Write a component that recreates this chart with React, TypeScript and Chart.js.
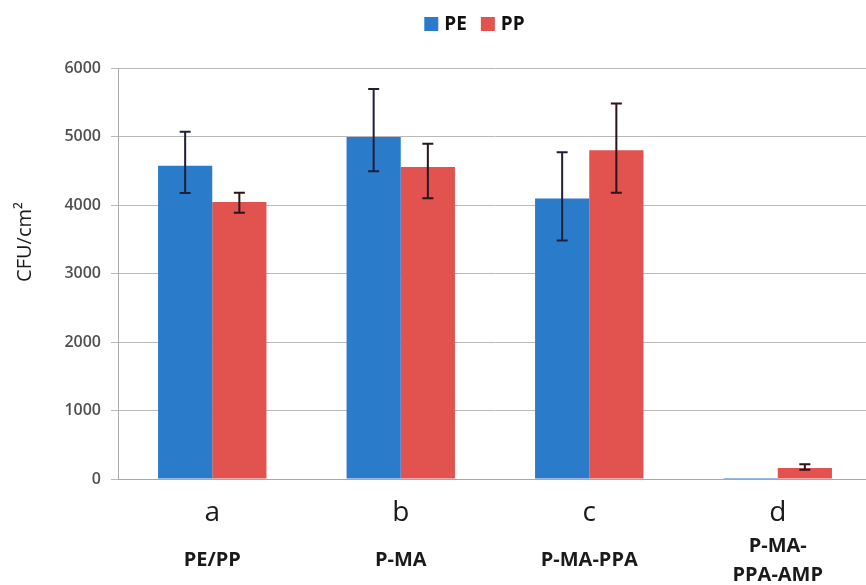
import React, { useEffect, useRef } from "react";
import { Chart, registerables } from "chart.js";

Chart.register(...registerables);

const categories = ["a", "b", "c", "d"];
const subLabels: string[][] = [["PE/PP"], ["P-MA"], ["P-MA-PPA"], ["P-MA-", "PPA-AMP"]];
const seriesNames = ["PE", "PP"];
const peValues = [4580, 5000, 4100, 15];
const ppValues = [4050, 4560, 4805, 160];
const peErrUp = [495, 700, 675, 0];
const peErrDown = [400, 500, 615, 0];
const ppErrUp = [135, 340, 685, 55];
const ppErrDown = [160, 455, 620, 25];
const yTicks = [0, 1000, 2000, 3000, 4000, 5000, 6000];
const yTitle = "CFU/cm²";

const BLUE = "#2b7bcb";
const RED = "#e2524f";
const FONT = "'Open Sans', 'DejaVu Sans', sans-serif";

export default function App() {
  const ref = useRef<HTMLCanvasElement | null>(null);

  useEffect(() => {
    const canvas = ref.current;
    if (!canvas) return;
    const errs = [
      { up: peErrUp, down: peErrDown, color: "#1d1f3d" },
      { up: ppErrUp, down: ppErrDown, color: "#2a1518" },
    ];

    const extras = {
      id: "extras",
      afterDatasetsDraw(chart: any) {
        const ctx = chart.ctx;
        const y = chart.scales.y;
        chart.data.datasets.forEach((ds: any, di: number) => {
          const meta = chart.getDatasetMeta(di);
          meta.data.forEach((bar: any, i: number) => {
            const up = errs[di].up[i];
            const down = errs[di].down[i];
            if (!up && !down) return;
            const v = ds.data[i];
            const yt = y.getPixelForValue(v + up);
            const yb = y.getPixelForValue(v - down);
            ctx.save();
            ctx.strokeStyle = errs[di].color;
            ctx.lineWidth = 2;
            ctx.beginPath();
            ctx.moveTo(bar.x, yt);
            ctx.lineTo(bar.x, yb);
            ctx.moveTo(bar.x - 5.5, yt);
            ctx.lineTo(bar.x + 5.5, yt);
            ctx.moveTo(bar.x - 5.5, yb);
            ctx.lineTo(bar.x + 5.5, yb);
            ctx.stroke();
            ctx.restore();
          });
        });
      },
      afterDraw(chart: any) {
        const ctx = chart.ctx;
        const x = chart.scales.x;
        ctx.save();
        ctx.fillStyle = "#1a1a1a";
        ctx.textAlign = "center";
        ctx.textBaseline = "alphabetic";
        categories.forEach((c, i) => {
          const px = x.getPixelForValue(i);
          ctx.font = `400 28px ${FONT}`;
          ctx.fillText(c, px, 521);
          ctx.font = `700 20px ${FONT}`;
          const lines = subLabels[i];
          const lh = 29;
          const base = 566 - ((lines.length - 1) * lh) / 2;
          lines.forEach((l, k) => ctx.fillText(l, px, base + k * lh));
        });
        // y title
        ctx.save();
        ctx.translate(25, 242);
        ctx.rotate(-Math.PI / 2);
        ctx.font = `400 20px ${FONT}`;
        ctx.textBaseline = "middle";
        ctx.fillText(yTitle, 0, 0);
        ctx.restore();
        // legend
        ctx.font = `700 19px ${FONT}`;
        ctx.textAlign = "left";
        ctx.textBaseline = "middle";
        const colors = [BLUE, RED];
        const box = 14;
        const gap = 6;
        const sep = 14;
        let total = 0;
        seriesNames.forEach((n, i) => {
          total += box + gap + ctx.measureText(n).width + (i < seriesNames.length - 1 ? sep : 0);
        });
        let lx = 474.5 - total / 2;
        const ly = 24;
        seriesNames.forEach((n, i) => {
          ctx.fillStyle = colors[i];
          ctx.fillRect(lx, ly - box / 2, box, box);
          lx += box + gap;
          ctx.fillStyle = "#111";
          ctx.fillText(n, lx, ly + 1);
          lx += ctx.measureText(n).width + sep;
        });
        ctx.restore();
      },
    };

    const chart = new Chart(canvas, {
      type: "bar",
      data: {
        labels: categories,
        datasets: [
          { label: seriesNames[0], data: peValues, backgroundColor: BLUE, categoryPercentage: 0.575, barPercentage: 1 },
          { label: seriesNames[1], data: ppValues, backgroundColor: RED, categoryPercentage: 0.575, barPercentage: 1 },
        ],
      },
      options: {
        animation: false,
        responsive: false,
        devicePixelRatio: 1,
        layout: { padding: { top: 68.5, right: 0, bottom: 0, left: 0 } },
        plugins: { legend: { display: false }, tooltip: { enabled: false } },
        scales: {
          x: {
            grid: { display: false },
            border: { display: true, color: "#a8a8a8", width: 1 },
            ticks: { display: false },
            afterFit: (s: any) => {
              s.height = 106;
            },
          },
          y: {
            min: yTicks[0],
            max: yTicks[yTicks.length - 1],
            afterBuildTicks: (s: any) => {
              s.ticks = yTicks.map((v) => ({ value: v }));
            },
            grid: { color: "#b9b9b9", lineWidth: 1, tickLength: 7, drawTicks: true },
            border: { display: true, color: "#a8a8a8" },
            ticks: {
              padding: 10,
              color: "#505050",
              font: { family: FONT, size: 16, weight: "600" },
              callback: (v: any) => String(v),
            },
            afterFit: (s: any) => {
              s.width = 118;
            },
          },
        },
      },
      plugins: [extras],
    } as any);
    return () => chart.destroy();
  }, []);

  return (
    <div style={{ position: "fixed", left: 0, top: 0, width: 866, height: 585, background: "#fff", overflow: "hidden" }}>
      <canvas ref={ref} width={872} height={585} style={{ width: 872, height: 585, display: "block" }} />
    </div>
  );
}
